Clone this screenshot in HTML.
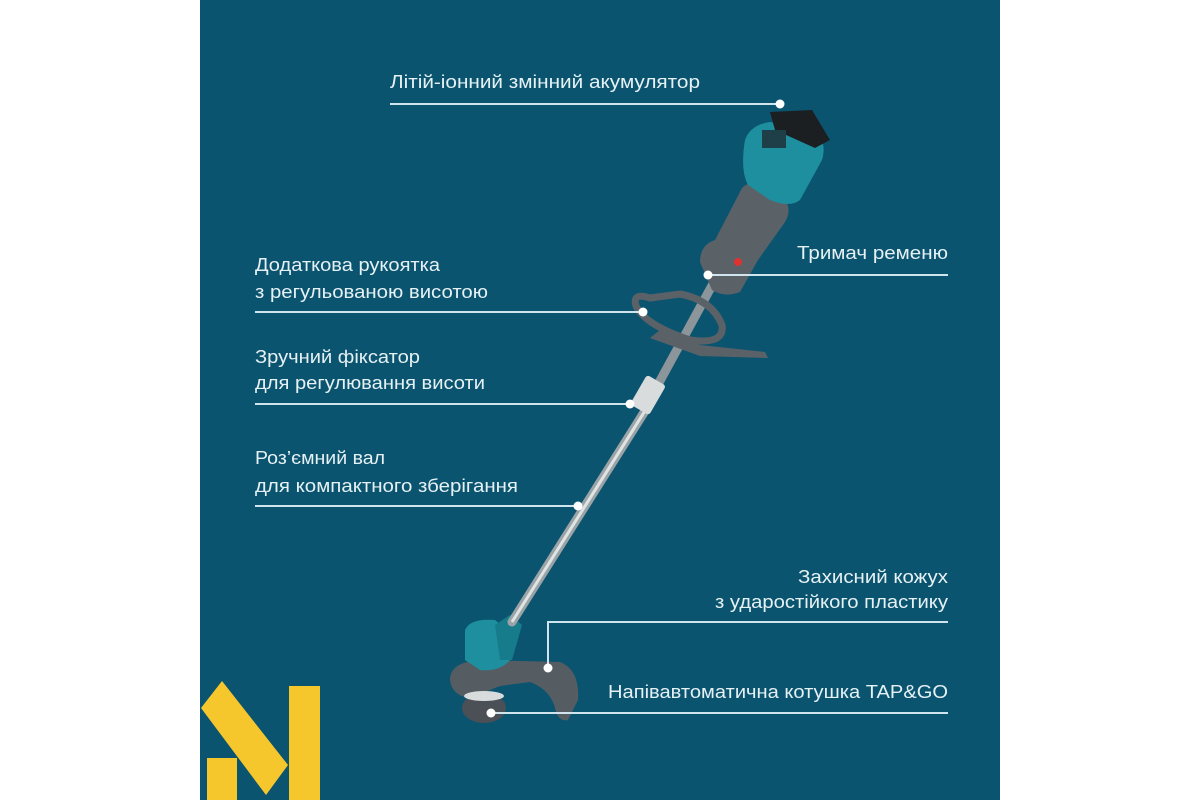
<!DOCTYPE html>
<html><head><meta charset="utf-8"><style>
html,body{margin:0;padding:0;background:#fff;}
svg{display:block}
text{font-family:"Liberation Sans",sans-serif;font-size:18px;fill:#e6f1f4;}
</style></head><body>
<svg width="1200" height="800" viewBox="0 0 1200 800">
<rect x="0" y="0" width="1200" height="800" fill="#fff"/>
<rect x="200" y="0" width="800" height="800" fill="#0b5470"/>
<!-- logo -->
<g fill="#f6c72c">
<rect x="289" y="686" width="31" height="114"/>
<rect x="207" y="758" width="30" height="42"/>
<polygon points="201,708 222,681 288,765 266,795"/>
</g>
<!-- trimmer head -->
<path d="M450,680 Q450,662 480,660 L560,662 Q580,670 578,700 L568,720 Q560,722 556,712 Q552,690 530,682 L500,686 L470,698 Q452,696 450,680Z" fill="#555d63"/>
<ellipse cx="484" cy="708" rx="22" ry="15" fill="#4a5055"/>
<ellipse cx="484" cy="696" rx="20" ry="5" fill="#d9dcdc"/>
<path d="M465,630 Q470,618 495,620 L505,628 L510,660 Q500,672 480,670 L465,660Z" fill="#1e8f9f"/>
<path d="M495,625 L510,615 L522,625 L512,660 L500,660Z" fill="#167c8c"/>
<!-- shafts -->
<line x1="655" y1="395" x2="512" y2="622" stroke="#9aa3a6" stroke-width="9" stroke-linecap="round"/>
<line x1="655" y1="395" x2="512" y2="622" stroke="#dfe3e3" stroke-width="3"/>
<line x1="715" y1="280" x2="655" y2="390" stroke="#8c9599" stroke-width="9"/>
<rect x="637" y="378" width="22" height="34" rx="3" fill="#d8dcdc" transform="rotate(30 648 395)"/>
<!-- handle loop -->
<path d="M650,298 Q632,292 636,306 Q645,325 690,340 Q725,345 722,325 Q712,300 680,294Z" fill="none" stroke="#5a6268" stroke-width="7"/>
<path d="M660,330 L700,345 L765,352 L768,358 L700,356 L650,338Z" fill="#5a6268"/>
<!-- motor / handle body -->
<path d="M700,262 Q700,245 715,240 L740,192 Q745,180 760,185 L785,200 Q792,210 785,222 L758,260 L740,292 Q725,298 712,290Z" fill="#5a6268"/>
<path d="M745,140 Q750,125 770,122 L812,130 Q828,140 822,160 L800,200 Q790,208 770,200 L748,185 Q740,170 745,140Z" fill="#1e8f9f"/>
<path d="M770,112 L812,110 L830,140 L815,148 L775,130Z" fill="#1b1f22"/>
<rect x="762" y="130" width="24" height="18" fill="#1f3f48"/>
<circle cx="738" cy="262" r="4" fill="#d33"/>
<!-- lines -->
<g stroke="#cfe4ec" stroke-width="2" fill="none">
<line x1="390" y1="104" x2="780" y2="104"/>
<line x1="708" y1="275" x2="948" y2="275"/>
<line x1="255" y1="312" x2="643" y2="312"/>
<line x1="255" y1="404" x2="630" y2="404"/>
<line x1="255" y1="506" x2="578" y2="506"/>
<polyline points="548,668 548,622 948,622"/>
<line x1="491" y1="713" x2="948" y2="713"/>
</g>
<g fill="#fff">
<circle cx="780" cy="104" r="4.5"/><circle cx="708" cy="275" r="4.5"/>
<circle cx="643" cy="312" r="4.5"/><circle cx="630" cy="404" r="4.5"/>
<circle cx="578" cy="506" r="4.5"/><circle cx="548" cy="668" r="4.5"/>
<circle cx="491" cy="713" r="4.5"/>
</g>
<!-- labels -->
<text x="390" y="88" textLength="310" lengthAdjust="spacingAndGlyphs">Літій-іонний змінний акумулятор</text>
<text x="797" y="259" textLength="151" lengthAdjust="spacingAndGlyphs">Тримач ременю</text>
<text x="255" y="271" textLength="185" lengthAdjust="spacingAndGlyphs">Додаткова рукоятка</text>
<text x="255" y="298" textLength="233" lengthAdjust="spacingAndGlyphs">з регульованою висотою</text>
<text x="255" y="363" textLength="165" lengthAdjust="spacingAndGlyphs">Зручний фіксатор</text>
<text x="255" y="389" textLength="230" lengthAdjust="spacingAndGlyphs">для регулювання висоти</text>
<text x="255" y="464" textLength="130" lengthAdjust="spacingAndGlyphs">Роз’ємний вал</text>
<text x="255" y="492" textLength="263" lengthAdjust="spacingAndGlyphs">для компактного зберігання</text>
<text x="798" y="583" textLength="150" lengthAdjust="spacingAndGlyphs">Захисний кожух</text>
<text x="715" y="608" textLength="233" lengthAdjust="spacingAndGlyphs">з ударостійкого пластику</text>
<text x="608" y="698" textLength="340" lengthAdjust="spacingAndGlyphs">Напівавтоматична котушка TAP&amp;GO</text>
</svg>
</body></html>
